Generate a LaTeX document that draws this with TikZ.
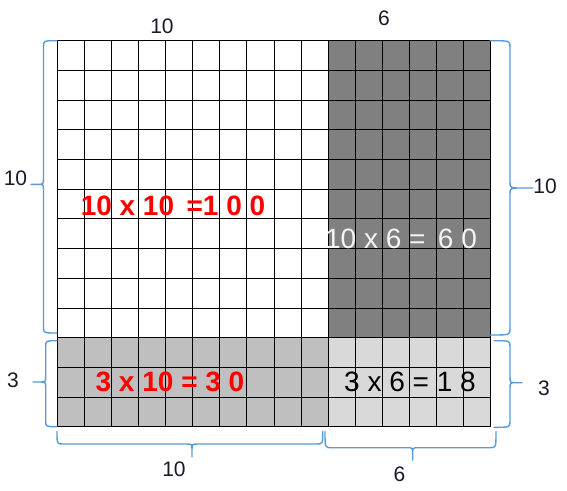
\documentclass[tikz,border=0pt]{standalone}
\usepackage{fontspec}
\setmainfont{Liberation Sans}
\definecolor{bracecol}{HTML}{5B9BD5}
\definecolor{dkgray}{HTML}{808080}
\definecolor{mdgray}{HTML}{BFBFBF}
\definecolor{ltgray}{HTML}{D9D9D9}
\definecolor{whitetxt}{HTML}{F4F4F4}
\definecolor{lblcol}{HTML}{1A1A2A}
\newcommand\vbr[6]{\draw[bracestyle] (#1,#4) .. controls (#2,#4) .. (#2,#4+6) -- (#2,#5-6) .. controls (#2,#5) .. ({#2+(#3-#2)*0.5},#5) -- (#3,#5) ({#2+(#3-#2)*0.5},#5) .. controls (#2,#5) .. (#2,#5+6) -- (#2,#6-6) .. controls (#2,#6) .. (#1,#6);}
\newcommand\hbr[6]{\draw[bracestyle] (#4,#1) .. controls (#4,#2) .. (#4+6,#2) -- (#5-6,#2) .. controls (#5,#2) .. (#5,{#2+(#3-#2)*0.5}) -- (#5,#3) (#5,{#2+(#3-#2)*0.5}) .. controls (#5,#2) .. (#5+6,#2) -- (#6-6,#2) .. controls (#6,#2) .. (#6,#1);}
\begin{document}
\begin{tikzpicture}[x=1pt,y=-1pt,
  gridline/.style={draw=black,line width=1pt},
  bracestyle/.style={draw=bracecol,line width=1.4pt,line cap=round,line join=round},
  bigtext/.style={inner sep=0pt,font=\fontsize{28}{30}\selectfont},
  bigred/.style={bigtext,text=red,font=\fontsize{28}{30}\selectfont\bfseries},
  bigwhite/.style={bigtext,text=whitetxt},
  bigblack/.style={bigtext,text=black},
  lbl/.style={inner sep=0pt,text=lblcol,font=\fontsize{21}{23}\selectfont}]
\useasboundingbox (0,0) rectangle (567,490);
\fill[white] (0,0) rectangle (567,490);
\def\gx{57.3}\def\gy{40.7}\def\cw{27.09}\def\rh{29.7}
\fill[dkgray] (\gx+10*\cw,\gy) rectangle (\gx+16*\cw,\gy+10*\rh);
\fill[mdgray] (\gx,\gy+10*\rh) rectangle (\gx+10*\cw,\gy+13*\rh);
\fill[ltgray] (\gx+10*\cw,\gy+10*\rh) rectangle (\gx+16*\cw,\gy+13*\rh);
\foreach \i in {0,...,16} \draw[gridline] (\gx+\i*\cw,\gy) -- (\gx+\i*\cw,\gy+13*\rh);
\foreach \j in {0,...,13} \draw[gridline] (\gx,\gy+\j*\rh) -- (\gx+16*\cw,\gy+\j*\rh);
% braces
\vbr{57}{43.5}{31}{40.7}{184.3}{333}
\vbr{490}{510}{533}{40.7}{188}{335}
\vbr{57}{45.7}{33}{340.7}{382}{426.7}
\vbr{494}{510}{522}{340.7}{382.7}{427.3}
\hbr{431.5}{444}{457}{57}{192}{322.7}
\hbr{431.5}{447.7}{460}{325}{412.7}{496}
% texts
\node[bigred] (t100) at (173,206) {10 x 10 \,=1 0 0};
\node[bigwhite] (t60) at (401,238.5) {10 x 6 = \,6 0};
\node[bigred] (t30) at (170,382) {3 x 10 = 3 0};
\node[bigblack] (t18) at (410,382) {3 x 6 = 1 8};
% labels
\node[lbl] (ltop10) at (162,26.5) {10};
\node[lbl] (ltop6) at (384,18.5) {6};
\node[lbl] (lleft10) at (15.5,178) {10};
\node[lbl] (lright10) at (545,186) {10};
\node[lbl] (lleft3) at (13,380.5) {3};
\node[lbl] (lright3) at (544,388) {3};
\node[lbl] (lbot10) at (174,469.5) {10};
\node[lbl] (lbot6) at (399.5,474.5) {6};
\end{tikzpicture}
\end{document}
